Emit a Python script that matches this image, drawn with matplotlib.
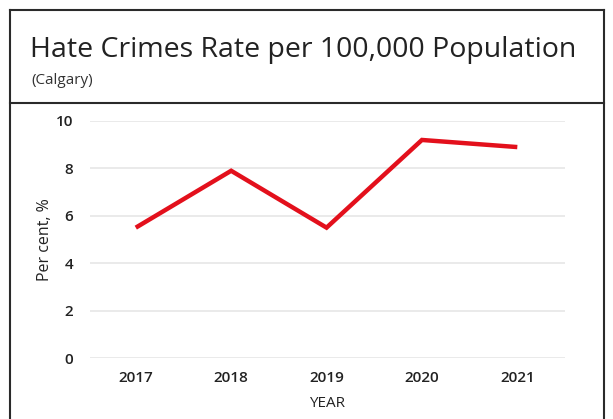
import matplotlib
matplotlib.use("Agg")
import matplotlib.pyplot as plt
from matplotlib.lines import Line2D

years = ["2017", "2018", "2019", "2020", "2021"]
rates = [5.5, 7.9, 5.5, 9.2, 8.9]
yticks = [0, 2, 4, 6, 8, 10]

plt.rcParams['font.family'] = ['Open Sans', 'DejaVu Sans']

W, H = 613, 419
fig = plt.figure(figsize=(W/100, H/100), dpi=100)
fig.patch.set_facecolor('white')

def fx(px): return px / W
def fy(py): return 1 - py / H

# frame
frame_col = '#2a2a2a'
for (x0, y0, x1, y1) in [(10, 10, 604, 10), (10, 10, 10, 419), (604, 10, 604, 419), (10, 103, 604, 103)]:
    fig.add_artist(Line2D([fx(x0), fx(x1)], [fy(y0), fy(y1)], color=frame_col, lw=1.5))

fig.text(fx(30), fy(50), "Hate Crimes Rate per 100,000 Population", fontsize=20.5,
         color='#222222', va='center', ha='left')
fig.text(fx(31), fy(80), "(Calgary)", fontsize=11, color='#333333', va='center', ha='left')

ax = fig.add_axes([fx(90), fy(358), fx(565) - fx(90), fy(121) - fy(358)])
x = list(range(len(years)))
ax.plot(x, rates, color='#e3101c', lw=3.2, solid_capstyle='butt', solid_joinstyle='miter')
ax.set_xlim(-0.48, 4.5)
ax.set_ylim(0, 10)
ax.set_yticks(yticks)
ax.set_yticklabels([str(v) for v in yticks], fontweight='semibold')
ax.set_xticks(x)
ax.set_xticklabels(years, fontweight='semibold')
ax.grid(axis='y', color='#e6e6e6', lw=1.2)
ax.set_axisbelow(True)
for s in ax.spines.values():
    s.set_visible(False)
ax.tick_params(axis='both', length=0, labelsize=11, colors='#222222')
ax.tick_params(axis='y', pad=12)
ax.tick_params(axis='x', pad=9)
ax.set_ylabel("Per cent, %", fontsize=11.5, color='#222222', labelpad=2, fontweight='medium')
ax.set_xlabel("YEAR", fontsize=11, color='#222222', labelpad=-1, fontweight='medium')
ax.xaxis.set_label_coords(0.5, -0.16)

fig.savefig("out.png", dpi=100)
